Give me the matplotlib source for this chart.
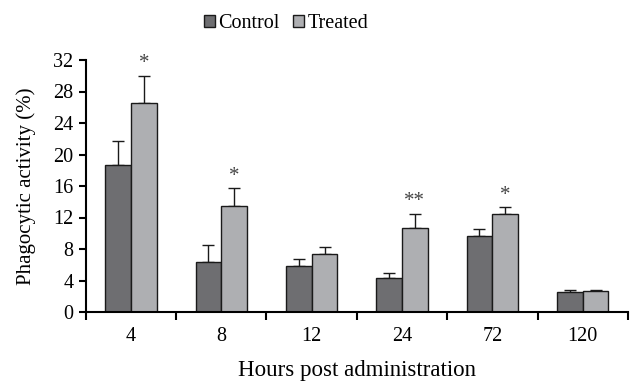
import matplotlib.pyplot as plt
import numpy as np

plt.rcParams['font.family'] = ['Liberation Serif', 'DejaVu Serif']

# Donnees
heures = ["4", "8", "12", "24", "72", "120"]
controle = [18.7, 6.3, 5.8, 4.3, 9.6, 2.5]
controle_err = [3.0, 2.2, 0.9, 0.7, 0.9, 0.35]
traite = [26.6, 13.5, 7.4, 10.7, 12.5, 2.65]
traite_err = [3.4, 2.2, 0.8, 1.8, 0.8, 0.2]
etoiles = ["*", "*", "", "**", "*", ""]

fig = plt.figure(figsize=(6.31, 3.84), dpi=100)
ax = fig.add_axes([0.136, 0.1875, 0.859, 0.65625])

x = np.arange(len(heures)) + 0.5
w = 0.285

ax.bar(x - w / 2, controle, w, color="#6e6e71", edgecolor="#1a1a1a", linewidth=1.0,
       label="Control", zorder=2)
ax.bar(x + w / 2, traite, w, color="#aeafb2", edgecolor="#1a1a1a", linewidth=1.0,
       label="Treated", zorder=2)
ax.errorbar(x - w / 2, controle, yerr=[np.zeros(len(controle)), controle_err],
            fmt="none", ecolor="#1a1a1a", elinewidth=1.0, capsize=4, capthick=1.0, zorder=1)
ax.errorbar(x + w / 2, traite, yerr=[np.zeros(len(traite)), traite_err],
            fmt="none", ecolor="#1a1a1a", elinewidth=1.0, capsize=4, capthick=1.0, zorder=1)

for i, s in enumerate(etoiles):
    if s:
        ax.text(x[i] + w / 2, traite[i] + traite_err[i] + 0.3, s, ha="center", va="bottom",
                fontsize=15, color="#444444")

ax.set_xlim(0, 6)
ax.set_ylim(0, 32)
ax.set_yticks(range(0, 33, 4))
ax.set_xticks(np.arange(0, 7))
ax.set_xticklabels([])
ax.set_xticks(x, minor=True)
ax.set_xticklabels(heures, minor=True)
ax.tick_params(axis="x", which="major", direction="out", length=6, width=1.5)
ax.tick_params(axis="x", which="minor", length=0, pad=11, labelsize=14.5)
ax.tick_params(axis="y", direction="out", length=5, width=1.5, labelsize=14.5, pad=4)

for side in ["top", "right"]:
    ax.spines[side].set_visible(False)
ax.spines["left"].set_linewidth(1.5)
ax.spines["bottom"].set_linewidth(1.5)

ax.set_ylabel("Phagocytic activity (%)", fontsize=15, labelpad=12)
ax.set_xlabel("Hours post administration", fontsize=16.5, labelpad=10)

fig.legend(loc="center", bbox_to_anchor=(286 / 631, 1 - 24 / 384), ncol=2, frameon=False,
           fontsize=14.5, handlelength=0.55, handleheight=0.55, handletextpad=0.15,
           columnspacing=0.7, borderpad=0.2)

plt.savefig("out.png", dpi=100)
